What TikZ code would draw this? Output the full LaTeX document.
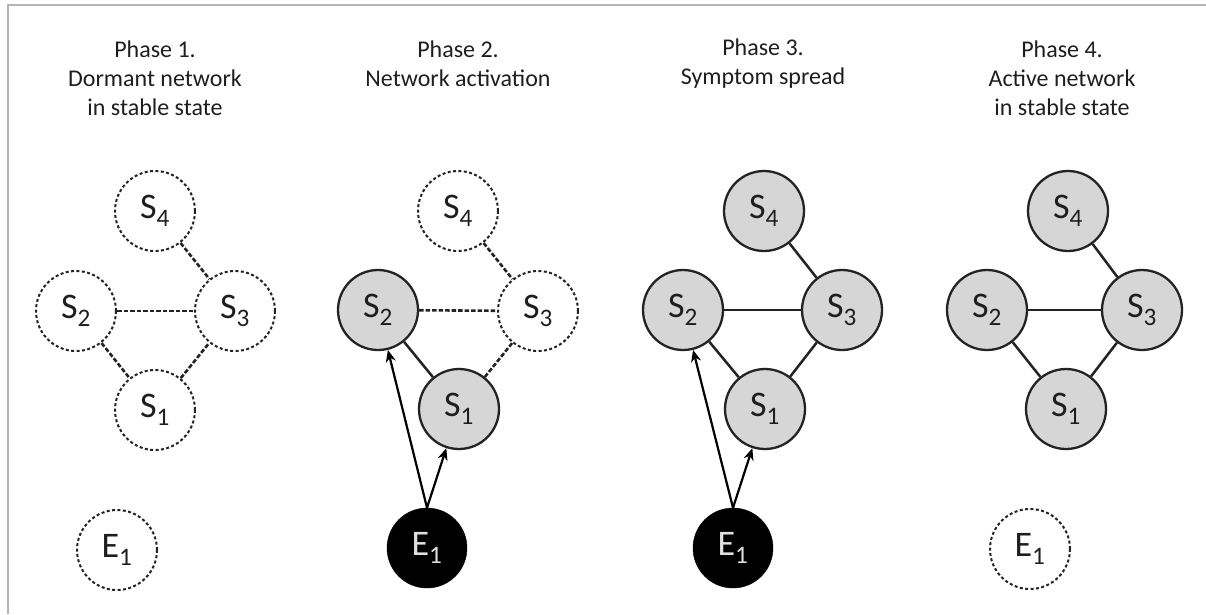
\documentclass[tikz,border=0pt]{standalone}
\usepackage{fontspec}
\setmainfont{Carlito}
\usetikzlibrary{arrows.meta}
\definecolor{framegray}{RGB}{180,180,176}
\definecolor{linegray}{RGB}{35,35,35}
\definecolor{fillgray}{RGB}{214,214,214}
\definecolor{textgray}{RGB}{30,30,30}
\newcommand{\lbl}[2]{#1\textsubscript{#2}}
\begin{document}
\begin{tikzpicture}[x=1pt,y={(0pt,-1pt)},
  title/.style={align=center,font=\fontsize{24}{29}\selectfont,text=textgray},
  base/.style={circle,minimum size=80pt,inner sep=0pt,font=\fontsize{36}{38}\selectfont,text=textgray},
  dormant/.style={base,draw=linegray,line width=2pt,dash pattern=on 3pt off 2.4pt},
  active/.style={base,draw=linegray,line width=2.3pt,fill=fillgray},
  cause/.style={base,draw=black,fill=black,text=white!88!black},
  dlink/.style={draw=linegray,line width=2.6pt,dash pattern=on 4.5pt off 2pt},
  slink/.style={draw=linegray,line width=2.5pt},
  alink/.style={draw=black,line width=2.2pt,-{Stealth[length=12pt,width=10pt]}}
]
\useasboundingbox (0,0) rectangle (1206,614);
\draw[framegray,line width=2pt] (8,614) -- (8,5) -- (1206,5);

% ---------- Phase 1 ----------
\node[title] (t1) at (155,78) {Phase 1.\\Dormant network\\in stable state};
\node[dormant] (a4) at (155,211) {\lbl{S}{4}};
\node[dormant] (a2) at (76,311) {\lbl{S}{2}};
\node[dormant] (a3) at (235,311) {\lbl{S}{3}};
\node[dormant] (a1) at (155,410) {\lbl{S}{1}};
\node[dormant] (ae) at (117,550) {\lbl{E}{1}};
\draw[dlink] (a4) -- (a3);
\draw[dlink] (a2) -- (a3);
\draw[dlink] (a2) -- (a1);
\draw[dlink] (a1) -- (a3);

% ---------- Phase 2 ----------
\node[title] (t2) at (458,64) {Phase 2.\\Network activation};
\node[dormant] (b4) at (458,211) {\lbl{S}{4}};
\node[active] (b2) at (378,310) {\lbl{S}{2}};
\node[dormant] (b3) at (538,311) {\lbl{S}{3}};
\node[active] (b1) at (459,409) {\lbl{S}{1}};
\node[cause] (be) at (427,548) {\lbl{E}{1}};
\draw[dlink] (b4) -- (b3);
\draw[dlink] (b2) -- (b3);
\draw[slink] (b2) -- (b1);
\draw[dlink] (b1) -- (b3);
\draw[alink] (be.north) -- (b2);
\draw[alink] (be.north) -- (b1);

% ---------- Phase 3 ----------
\node[title] (t3) at (763,64) {Phase 3.\\Symptom spread};
\node[active] (c4) at (764,211) {\lbl{S}{4}};
\node[active] (c2) at (683,310) {\lbl{S}{2}};
\node[active] (c3) at (842,310) {\lbl{S}{3}};
\node[active] (c1) at (765,409) {\lbl{S}{1}};
\node[cause] (ce) at (733,548) {\lbl{E}{1}};
\draw[slink] (c4) -- (c3);
\draw[slink] (c2) -- (c3);
\draw[slink] (c2) -- (c1);
\draw[slink] (c1) -- (c3);
\draw[alink] (ce.north) -- (c2);
\draw[alink] (ce.north) -- (c1);

% ---------- Phase 4 ----------
\node[title] (t4) at (1062,78) {Phase 4.\\Active network\\in stable state};
\node[active] (d4) at (1068,211) {\lbl{S}{4}};
\node[active] (d2) at (987,310) {\lbl{S}{2}};
\node[active] (d3) at (1142,310) {\lbl{S}{3}};
\node[active] (d1) at (1066,409) {\lbl{S}{1}};
\node[dormant] (de) at (1030,549) {\lbl{E}{1}};
\draw[slink] (d4) -- (d3);
\draw[slink] (d2) -- (d3);
\draw[slink] (d2) -- (d1);
\draw[slink] (d1) -- (d3);
\end{tikzpicture}
\end{document}
